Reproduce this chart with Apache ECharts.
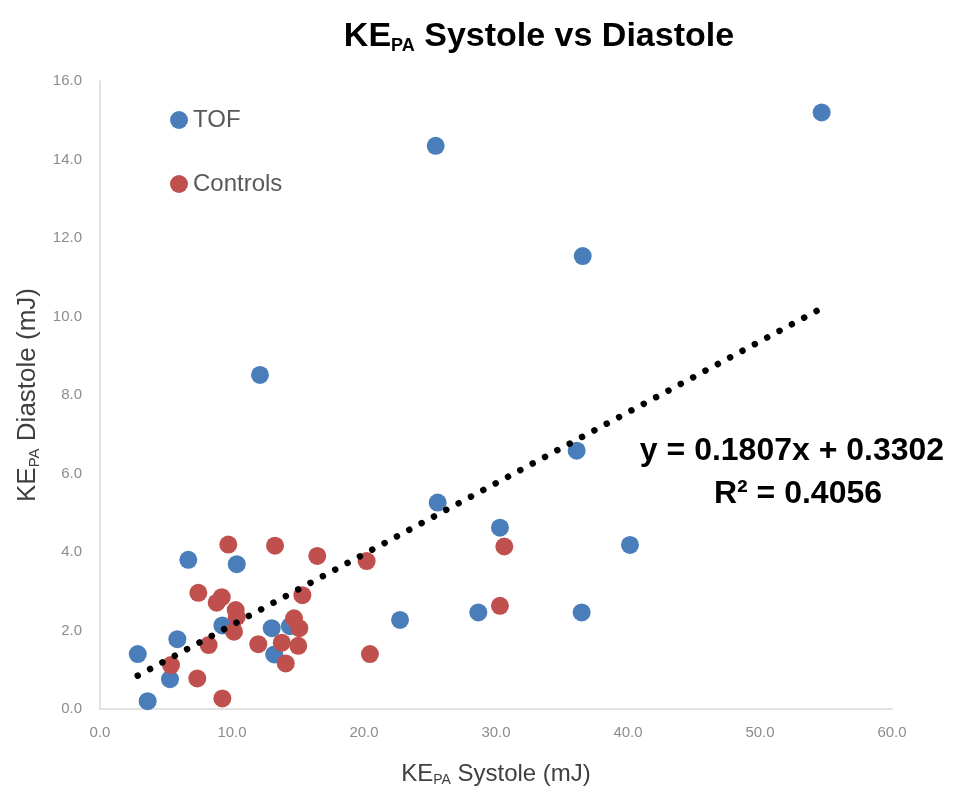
<!DOCTYPE html>
<html>
<head>
<meta charset="utf-8">
<script src="https://cdn.jsdelivr.net/npm/echarts@6/dist/echarts.min.js"></script>
<style>
  html, body { margin: 0; padding: 0; background: #fff; }
  #chart { width: 971px; height: 804px; }
</style>
</head>
<body>
<div id="chart"></div>
<script>
// TOF patients
const tofX = [6.69, 10.36, 2.86, 5.86, 5.30, 3.61, 9.27, 13.01, 14.39, 13.20, 22.73,
  28.66, 30.30, 36.11, 25.58, 40.15, 36.49, 25.43, 54.67, 36.57, 12.12]
const tofY = [3.80, 3.69, 1.40, 1.78, 0.76, 0.20, 2.13, 2.06, 2.11, 1.39, 2.27,
  2.46, 4.62, 6.58, 5.26, 4.18, 2.46, 14.35, 15.20, 11.54, 8.51]

// controls
const ctrlX = [9.72, 13.26, 16.46, 7.45, 9.22, 8.84, 10.28, 10.36, 10.15, 8.23, 5.38, 7.37,
  9.27, 15.33, 14.70, 15.10, 11.99, 13.77, 15.02, 14.07, 20.20, 30.30, 30.63, 20.45]
const ctrlY = [4.19, 4.16, 3.90, 2.96, 2.85, 2.71, 2.52, 2.35, 1.97, 1.63, 1.12, 0.78,
  0.27, 2.90, 2.31, 2.06, 1.65, 1.69, 1.61, 1.16, 3.77, 2.63, 4.14, 1.40]

// linear trendline ends (y = 0.1807x + 0.3302)
const trendX = [2.86, 54.67]
const trendY = [0.85, 10.21]

const eqLine = 'y = 0.1807x + 0.3302'
const r2Line = 'R\u00B2 = 0.4056'

const zip = (xs, ys) => xs.map((x, i) => [x, ys[i]])

const nameRich = (size) => ({
  a: { fontSize: size, color: '#404040', fontFamily: 'Liberation Sans' },
  s: { fontSize: Math.round(size * 0.58), color: '#404040', fontFamily: 'Liberation Sans', padding: [Math.round(size / 2), 0, 0, 0] }
})

const chart = echarts.init(document.getElementById('chart'))

const option = {
  backgroundColor: '#fff',
  animation: false,
  grid: { left: 100, right: 79, top: 81, bottom: 95 },
  legend: {
    data: ['TOF', 'Controls'],
    orient: 'vertical',
    left: 165,
    top: 103,
    icon: 'circle',
    itemWidth: 18,
    itemHeight: 18,
    itemGap: 40,
    textStyle: { fontSize: 24, color: '#595959', fontFamily: 'Liberation Sans' }
  },
  xAxis: {
    type: 'value',
    min: 0,
    max: 60,
    interval: 10,
    name: '{a|KE}{s|PA}{a| Systole (mJ)}',
    nameLocation: 'middle',
    nameGap: 52,
    nameTextStyle: { rich: nameRich(24) },
    axisLine: { show: true, lineStyle: { color: '#d9d9d9', width: 1.5 } },
    axisTick: { show: false },
    splitLine: { show: false },
    axisLabel: {
      margin: 16,
      fontSize: 15,
      color: '#8c8c8c',
      fontFamily: 'Liberation Sans',
      formatter: v => v.toFixed(1)
    }
  },
  yAxis: {
    type: 'value',
    min: 0,
    max: 16,
    interval: 2,
    name: '{a|KE}{s|PA}{a| Diastole (mJ)}',
    nameLocation: 'middle',
    nameGap: 57,
    nameRotate: 90,
    nameTextStyle: { rich: nameRich(26) },
    axisLine: { show: true, lineStyle: { color: '#d9d9d9', width: 1.5 } },
    axisTick: { show: false },
    splitLine: { show: false },
    axisLabel: {
      margin: 18,
      fontSize: 15,
      color: '#8c8c8c',
      fontFamily: 'Liberation Sans',
      formatter: v => v.toFixed(1)
    }
  },
  series: [
    {
      name: 'TOF',
      type: 'scatter',
      symbolSize: 18,
      itemStyle: { color: '#4a7ebb', opacity: 1 },
      data: zip(tofX, tofY)
    },
    {
      name: 'Controls',
      type: 'scatter',
      symbolSize: 18,
      itemStyle: { color: '#c0504d', opacity: 1 },
      data: zip(ctrlX, ctrlY)
    },
    {
      name: 'trend',
      type: 'line',
      symbol: 'none',
      silent: true,
      z: 5,
      lineStyle: { color: '#000', width: 6.5, type: [0.01, 14], cap: 'round' },
      data: zip(trendX, trendY)
    }
  ],
  graphic: [
    {
      type: 'text',
      x: 539,
      y: 37,
      style: {
        text: '{a|KE}{s|PA}{a| Systole vs Diastole}',
        align: 'center',
        verticalAlign: 'middle',
        rich: {
          a: { fontSize: 34, fontWeight: 'bold', fill: '#000', fontFamily: 'Liberation Sans' },
          s: { fontSize: 18, fontWeight: 'bold', fill: '#000', fontFamily: 'Liberation Sans', padding: [18, 0, 0, 0] }
        }
      }
    },
    {
      type: 'text',
      x: 792,
      y: 451,
      style: {
        text: eqLine,
        align: 'center',
        verticalAlign: 'middle',
        font: 'bold 32px "Liberation Sans"',
        fill: '#000'
      }
    },
    {
      type: 'text',
      x: 798,
      y: 494,
      style: {
        text: r2Line,
        align: 'center',
        verticalAlign: 'middle',
        font: 'bold 32px "Liberation Sans"',
        fill: '#000'
      }
    }
  ]
}

chart.setOption(option)
</script>
</body>
</html>
